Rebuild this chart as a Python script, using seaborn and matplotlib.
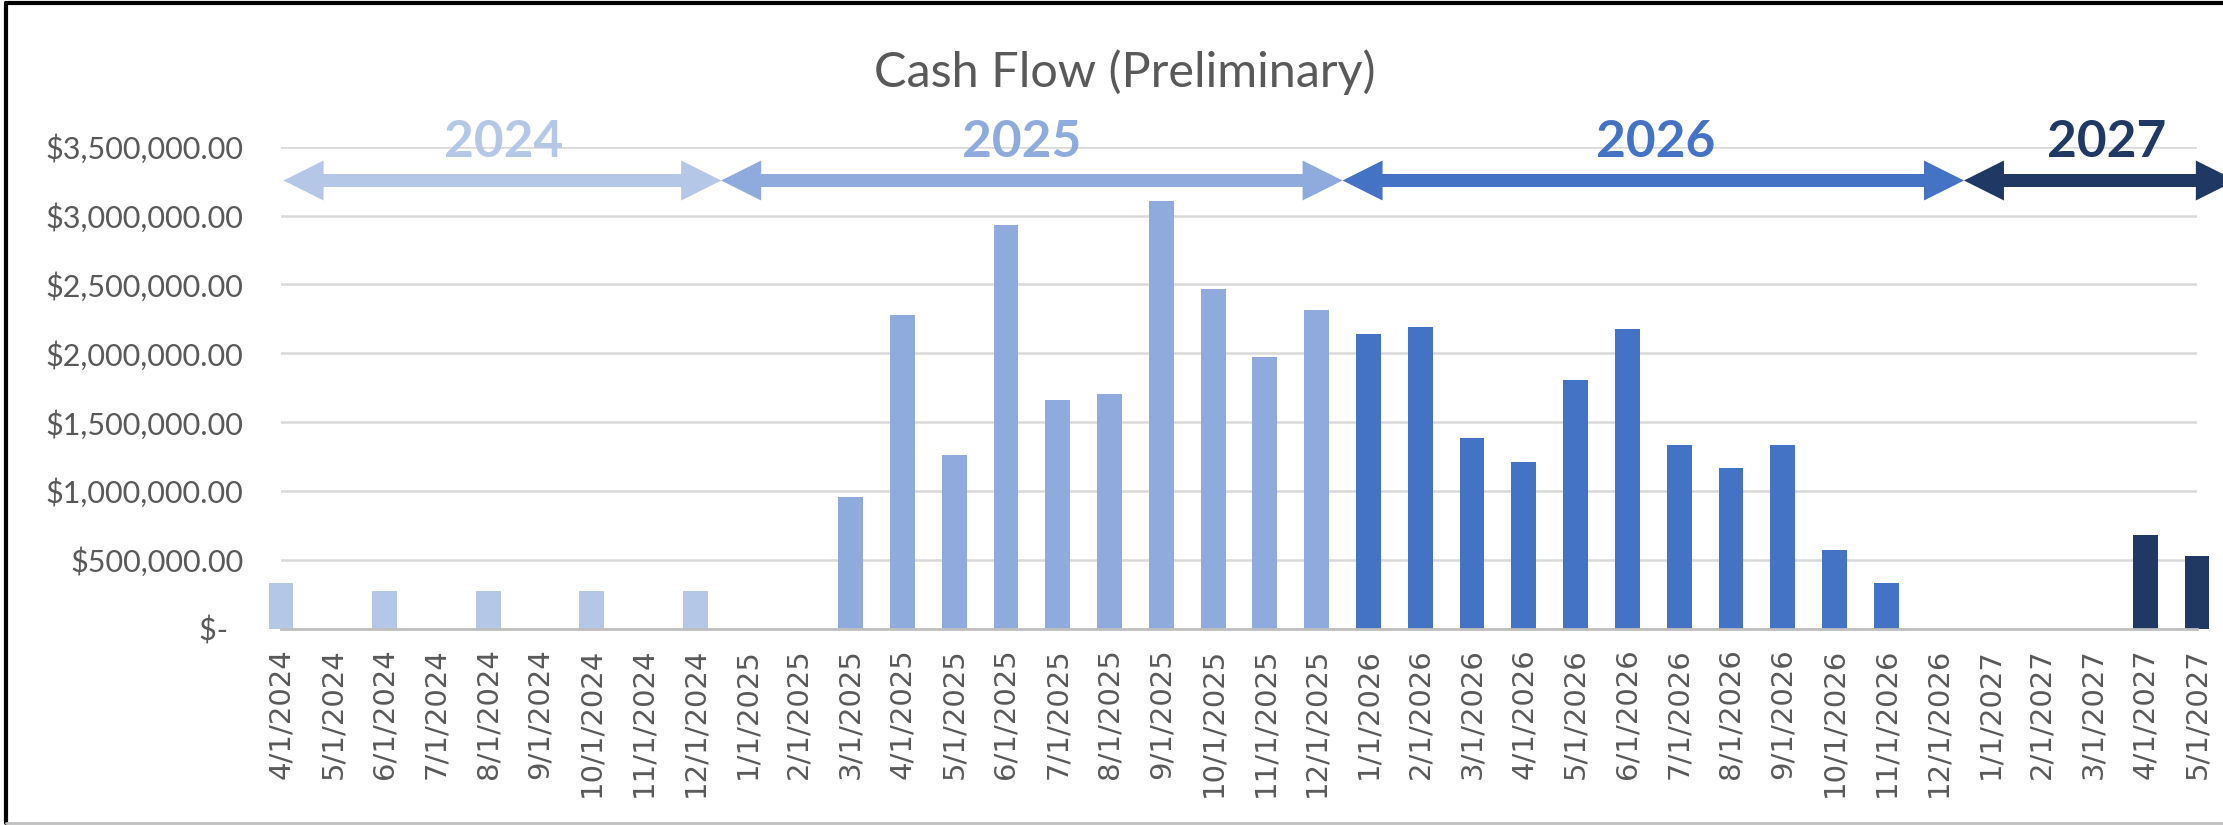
import numpy as np
import pandas as pd
import matplotlib
matplotlib.use("Agg")
import matplotlib.pyplot as plt
from matplotlib.patches import Polygon
from matplotlib.lines import Line2D
import seaborn as sns

# ---------------- data ----------------
dates = ["4/1/2024", "5/1/2024", "6/1/2024", "7/1/2024", "8/1/2024", "9/1/2024",
         "10/1/2024", "11/1/2024", "12/1/2024",
         "1/1/2025", "2/1/2025", "3/1/2025", "4/1/2025", "5/1/2025", "6/1/2025",
         "7/1/2025", "8/1/2025", "9/1/2025", "10/1/2025", "11/1/2025", "12/1/2025",
         "1/1/2026", "2/1/2026", "3/1/2026", "4/1/2026", "5/1/2026", "6/1/2026",
         "7/1/2026", "8/1/2026", "9/1/2026", "10/1/2026", "11/1/2026", "12/1/2026",
         "1/1/2027", "2/1/2027", "3/1/2027", "4/1/2027", "5/1/2027"]
values = [330000, 0, 275000, 0, 275000, 0, 275000, 0, 275000,
          0, 0, 953000, 2281000, 1262000, 2930000, 1663000, 1704000, 3105000,
          2467000, 1972000, 2312000,
          2137000, 2188000, 1385000, 1210000, 1807000, 2178000, 1334000, 1169000,
          1334000, 570000, 328000, 0,
          0, 0, 0, 679000, 527000]
years = [d.split("/")[-1] for d in dates]
year_labels = ["2024", "2025", "2026", "2027"]
year_colors = ["#B4C7E7", "#8FAADC", "#4472C4", "#203864"]
# arrow extents (category-index units) and label centres
arrow_spans = [(0.05, 8.5), (8.5, 20.5), (20.5, 32.5), (32.5, 37.75)]
label_x = [4.3, 14.3, 26.55, 35.25]
y_ticks = [0, 500000, 1000000, 1500000, 2000000, 2500000, 3000000, 3500000]
title = "Cash Flow (Preliminary)"

df = pd.DataFrame({"date": dates, "value": values, "year": years})

# ---------------- figure ----------------
sns.set_style("white")
plt.rcParams["font.family"] = ["DejaVu Sans"]
W, H, DPI = 2223, 825, 100
fig = plt.figure(figsize=(W / DPI, H / DPI), dpi=DPI)
ax_left, ax_right = 281 / W, 2197 / W
ax_bottom, ax_top = 1 - 628.5 / H, 1 - 146.7 / H
ax = fig.add_axes([ax_left, ax_bottom, ax_right - ax_left, ax_top - ax_bottom])

palette = dict(zip(year_labels, year_colors))
sns.barplot(data=df, x="date", y="value", hue="year", order=dates,
            hue_order=year_labels, palette=palette, dodge=False, width=0.48,
            saturation=1, legend=False, ax=ax, zorder=3)
for p in ax.patches:
    p.set_clip_on(False)
    p.set_edgecolor("none")

ax.set_xlim(0, len(dates) - 1)
ax.set_ylim(0, 3500000)
ax.set_yticks(y_ticks)
ax.set_yticklabels(["$-  " if v == 0 else f"${v:,.2f}" for v in y_ticks],
                   fontfamily="Lato", fontsize=22, color="#595959")
ax.set_xticks(range(len(dates)))
ax.set_xticklabels(dates, rotation=90, fontsize=21, color="#595959",
                   fontfamily="DejaVu Sans")
ax.tick_params(axis="y", length=0, pad=27)
ax.tick_params(axis="x", length=10, width=1.5, color="#BFBFBF", pad=4)
ax.set_xlabel("")
ax.set_ylabel("")
ax.grid(axis="y", color="#D9D9D9", linewidth=1.8, zorder=0)
ax.grid(axis="x", visible=False)
ax.set_axisbelow(True)
for s in ["left", "right", "top"]:
    ax.spines[s].set_visible(False)
ax.spines["bottom"].set_color("#BFBFBF")
ax.spines["bottom"].set_linewidth(2)
ax.spines["bottom"].set_zorder(4)

# ---------------- title ----------------
fig.text(1125 / W, 1 - 87 / H, title, ha="center", va="baseline",
         fontfamily="Lato", fontsize=35, color="#595959")

# ---------------- year arrows ----------------
fig.canvas.draw()
arrow_y = H - 180.5          # display px
shaft_half = 6.5
head_half = 20
head_len = 40


def double_arrow(x0, x1, color):
    pts = [(x0, arrow_y), (x0 + head_len, arrow_y + head_half),
           (x0 + head_len, arrow_y + shaft_half), (x1 - head_len, arrow_y + shaft_half),
           (x1 - head_len, arrow_y + head_half), (x1, arrow_y),
           (x1 - head_len, arrow_y - head_half), (x1 - head_len, arrow_y - shaft_half),
           (x0 + head_len, arrow_y - shaft_half), (x0 + head_len, arrow_y - head_half)]
    poly = Polygon(pts, closed=True, facecolor=color, edgecolor="none",
                   transform=None, zorder=10)
    fig.patches.append(poly)


for (a, b), lab, col, lx in zip(arrow_spans, year_labels, year_colors, label_x):
    xa = ax.transData.transform((a, 0))[0]
    xb = ax.transData.transform((b, 0))[0]
    double_arrow(xa, xb, col)
    xl = ax.transData.transform((lx, 0))[0] / W
    fig.text(xl, 1 - 157 / H, lab, ha="center", va="baseline",
             fontfamily="Lato", fontweight="bold", fontsize=37, color=col, zorder=11)

# ---------------- chart frame ----------------
fig.lines.append(Line2D([6 / W, 6 / W], [0.002, 1 - 3 / H], transform=fig.transFigure,
                        color="black", linewidth=3))
fig.lines.append(Line2D([6 / W, 1.0], [1 - 3 / H, 1 - 3 / H], transform=fig.transFigure,
                        color="black", linewidth=3))
fig.lines.append(Line2D([6 / W, 1.0], [2.5 / H, 2.5 / H], transform=fig.transFigure,
                        color="#BFBFBF", linewidth=2))

fig.savefig("out.png", dpi=DPI, facecolor="white")
